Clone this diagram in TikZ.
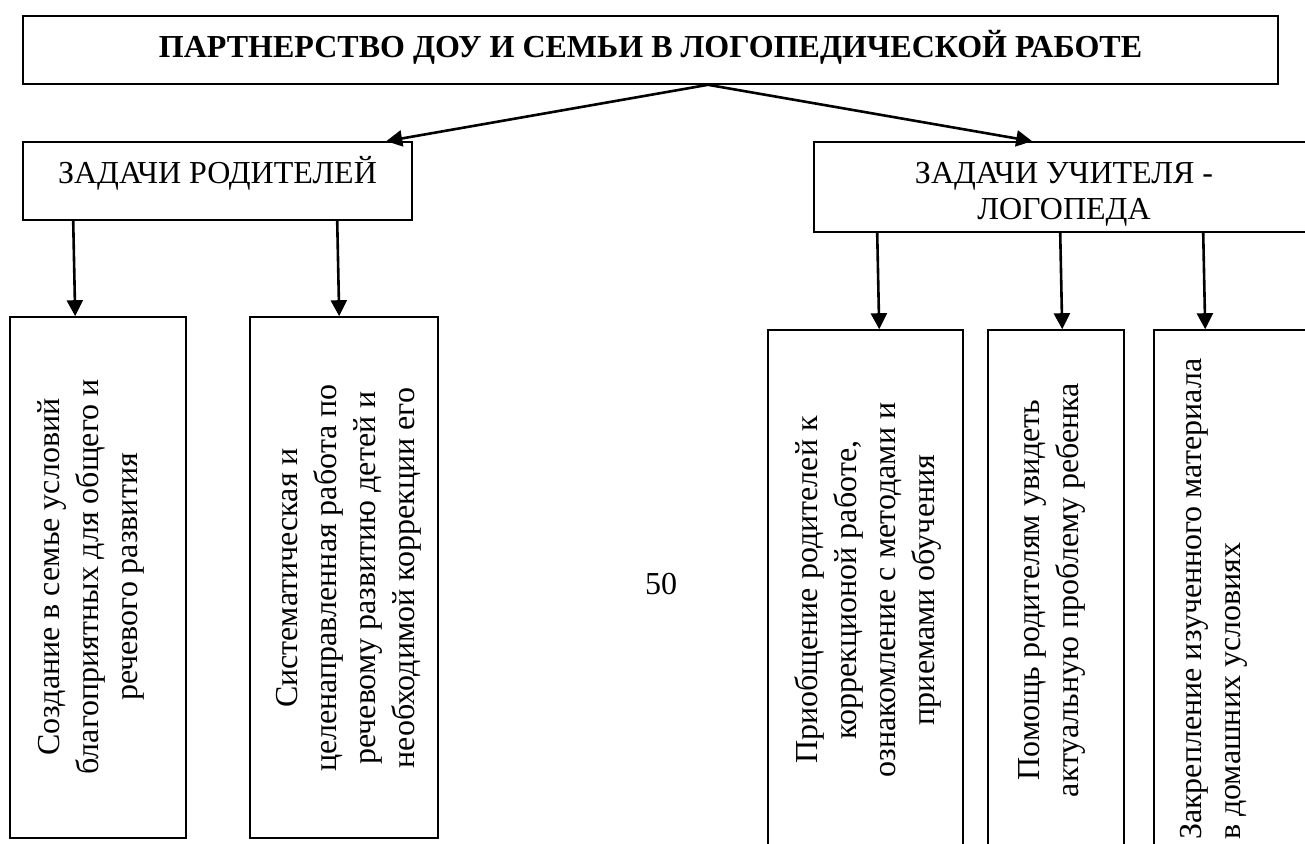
\documentclass[tikz,border=0pt]{standalone}
\usepackage{fontspec}
\setmainfont{Liberation Serif}
\usetikzlibrary{arrows.meta}
\begin{document}
\begin{tikzpicture}[x=1pt,y=-1pt,
  box/.style={draw, line width=1.6pt, rectangle, inner sep=0pt},
  txt/.style={font=\fontsize{32}{39}\selectfont, inner sep=0pt, align=center},
  vtxt/.style={txt, rotate=90},
  arr/.style={line width=2.6pt, -{Triangle[width=16pt,length=16pt]}}]
\useasboundingbox (0,0) rectangle (1305,843);
\fill[white] (0,0) rectangle (1305,843);
\clip (0,0) rectangle (1305,843);
% boxes
\node[box, minimum width=1255pt, minimum height=68pt] (top) at (650.5,50) {};
\node[box, minimum width=389pt, minimum height=78pt] (par) at (217.5,181) {};
\node[box, minimum width=506pt, minimum height=90pt] (log) at (1067,187) {};
\node[box, minimum width=176pt, minimum height=521pt] (b1) at (98,577.5) {};
\node[box, minimum width=188pt, minimum height=521pt] (b2) at (344,577.5) {};
\node[box, minimum width=195pt, minimum height=540pt] (b3) at (865.5,600) {};
\node[box, minimum width=136pt, minimum height=540pt] (b4) at (1056,600) {};
\node[box, minimum width=186pt, minimum height=540pt] (b5) at (1247,600) {};
% texts
\node[txt, anchor=base, font=\fontsize{32}{39}\selectfont\bfseries] (tt) at (650.5,57) {ПАРТНЕРСТВО ДОУ И СЕМЬИ В ЛОГОПЕДИЧЕСКОЙ РАБОТЕ};
\node[txt, anchor=base] (pt) at (217.5,183) {ЗАДАЧИ РОДИТЕЛЕЙ};
\node[txt, font=\fontsize{32}{36}\selectfont] (lt) at (1064,194.5) {ЗАДАЧИ УЧИТЕЛЯ -\\ЛОГОПЕДА};
\node[vtxt] (t1) at (91,577) {Создание в семье условий\\благоприятных для общего и\\речевого развития};
\node[vtxt] (t2) at (349,578) {Систематическая и\\целенаправленная работа по\\речевому развитию детей и\\необходимой коррекции его};
\node[vtxt] (t3) at (868,590) {Приобщение родителей к\\коррекционой работе,\\ознакомление с методами и\\приемами обучения};
\node[vtxt] (t4) at (1052,590) {Помощь родителям увидеть\\актуальную проблему ребенка};
\node[vtxt, align=left, anchor=west] (t5) at (1214,840) {Закрепление изученного материала\\в домашних условиях};
\node[txt] (pg) at (661,584) {50};
% connectors
\draw[arr] ([xshift=57.5pt]top.south) -- ([xshift=364pt]par.north west);
\draw[arr] ([xshift=57.5pt]top.south) -- ([xshift=219pt]log.north west);
\draw[arr] ([xshift=51pt]par.south west) -- ([xshift=66pt]b1.north west);
\draw[arr] ([xshift=315pt]par.south west) -- ([xshift=90pt]b2.north west);
\draw[arr] ([xshift=64pt]log.south west) -- ([xshift=112pt]b3.north west);
\draw[arr] ([xshift=247pt]log.south west) -- ([xshift=75pt]b4.north west);
\draw[arr] ([xshift=390pt]log.south west) -- ([xshift=52pt]b5.north west);
\end{tikzpicture}
\end{document}
